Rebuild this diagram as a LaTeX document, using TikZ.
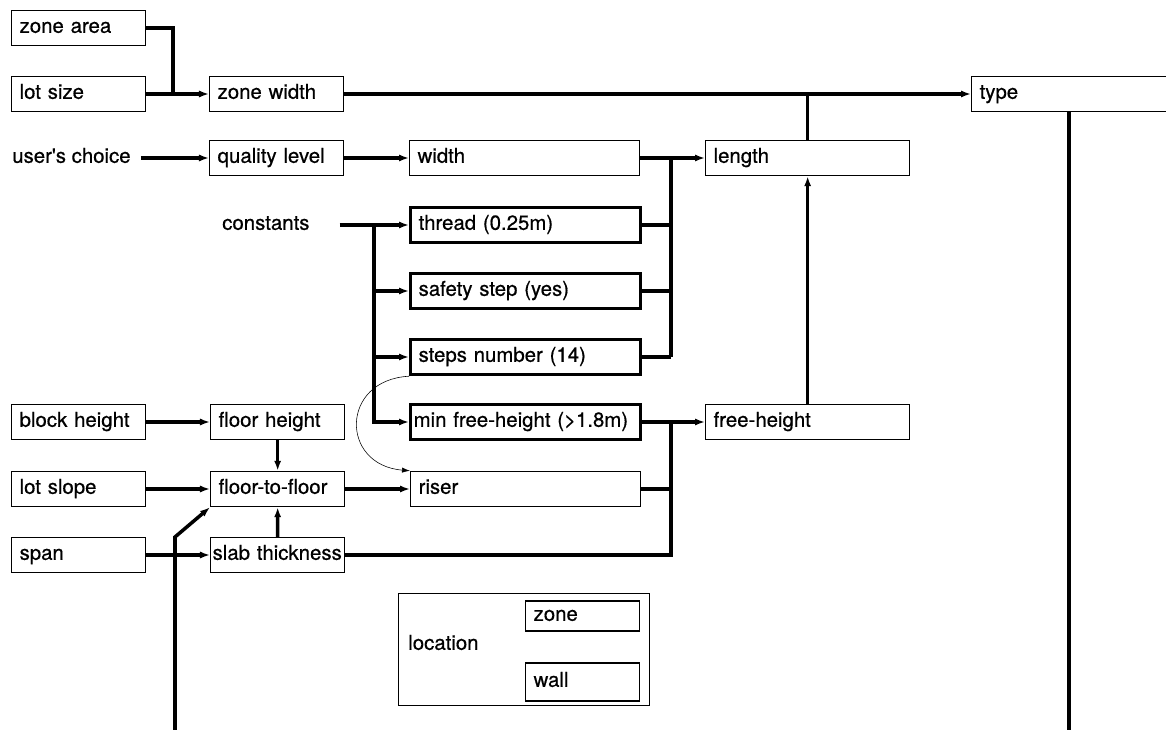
\documentclass[tikz,border=0pt]{standalone}
\usepackage{fontspec}
\setmainfont{TeX Gyre Heros}[FakeBold=0.6]
\usetikzlibrary{arrows.meta}
\tikzset{
  box/.style={draw, line width=0.9pt, anchor=west, minimum height=0.88cm,
    text width=#1, align=left, inner xsep=0.2cm, inner ysep=0pt,
    text height=1.75ex, text depth=0.45ex},
  fixbox/.style={box=#1, line width=2.3pt},
  plain/.style={anchor=west, inner sep=0pt, text height=1.75ex, text depth=0.45ex},
  wire/.style={line width=2.5pt},
  arr/.style={wire, -{Latex[length=2.5mm,width=1.8mm]}}
}
\begin{document}
\begin{tikzpicture}[x=0.025cm, y=-0.025cm, font=\fontsize{14.5}{17}\selectfont]
\useasboundingbox (0,0) rectangle (1166,730);
% inputs and derived values
\node[box=2.95cm] (zonearea) at (11,28) {zone area};
\node[box=2.95cm] (lotsize) at (11,94) {lot size};
\node[box=2.95cm] (zonewidth) at (209,94) {zone width};
\node[box=7.1cm] (type) at (971,94) {type};
\node[plain] (choice) at (12,158) {user\textquotesingle s choice};
\node[box=2.95cm] (quality) at (209,158) {quality level};
\node[box=5.35cm] (width) at (409,158) {width};
\node[box=4.7cm] (length) at (705,158) {length};
\node[plain] (constants) at (222,225) {constants};
\node[fixbox=5.35cm] (thread) at (409,225) {thread (0.25m)};
\node[fixbox=5.35cm] (safety) at (409,291) {safety step (yes)};
\node[fixbox=5.35cm] (steps) at (409,357) {steps number (14)};
\node[fixbox=5.6cm, inner xsep=0.075cm] (minfree) at (409,422) {min free-height (>1.8m)};
\node[box=4.7cm] (freeheight) at (705,422) {free-height};
\node[box=2.95cm] (block) at (11,422) {block height};
\node[box=2.95cm] (floorh) at (210,422) {floor height};
\node[box=2.95cm] (lotslope) at (11,489) {lot slope};
\node[box=2.95cm] (ftf) at (210,489) {floor-to-floor};
\node[box=5.35cm] (riser) at (410,489) {riser};
\node[box=2.95cm] (span) at (11,555) {span};
\node[box=3.25cm, inner xsep=0.05cm] (slab) at (210,555) {slab thickness};
% location
\node[draw, line width=0.9pt, anchor=north west, minimum width=6.275cm,
  minimum height=2.8cm] (loc) at (398,593) {};
\node[plain] (loctext) at (408,645) {location};
\node[box=2.45cm, minimum height=0.75cm] (zone) at (525,616) {zone};
\node[box=2.45cm, minimum height=0.95cm] (wall) at (525,682) {wall};
% connectors
\coordinate (j1) at (173,94);
\draw[wire] (zonearea.east) -| (j1);
\draw[arr] (lotsize) -- (zonewidth);
\draw[arr] (zonewidth) -- (type);
\draw[wire] (length.north) -- (length.north |- type.west);
\draw[arr] ([xshift=0.25cm]choice.east) -- (quality);
\draw[arr] (quality) -- (width);
\draw[arr] (width) -- (length);
\coordinate (j2) at (671,158);
\foreach \n in {thread,safety,steps}
  \draw[wire] (\n.east) -- (\n.east -| j2);
\draw[wire] (j2) -- (j2 |- steps.east);
\coordinate (j3) at (374,225);
\draw[arr] ([xshift=0.75cm]constants.east) -- (thread);
\foreach \n in {safety,steps,minfree}
  \draw[arr] (j3) |- (\n);
\draw[arr] (minfree) -- (freeheight);
\coordinate (j4) at (671,422);
\draw[wire] (riser.east) -- (riser.east -| j4);
\draw[wire] (j4) |- (slab.east);
\draw[arr] (freeheight) -- (length);
\draw[arr] (block) -- (floorh);
\draw[arr] (floorh) -- (ftf);
\draw[arr] (lotslope) -- (ftf);
\draw[arr] (ftf) -- (riser);
\draw[arr] (slab) -- (ftf);
\draw[arr] (span) -- (slab);
\coordinate (foot) at (175,730);
\coordinate (kink) at (175,537);
\draw[arr] (foot) -- (kink) -- (ftf.south west);
\coordinate (typefoot) at (1069,730);
\draw[wire] (typefoot |- type.south) -- (typefoot);
\draw[thin, -{Latex[length=2mm,width=1.3mm]}] (steps.south west)
  .. controls (340,380) and (340,465) .. (riser.north west);
\end{tikzpicture}
\end{document}
